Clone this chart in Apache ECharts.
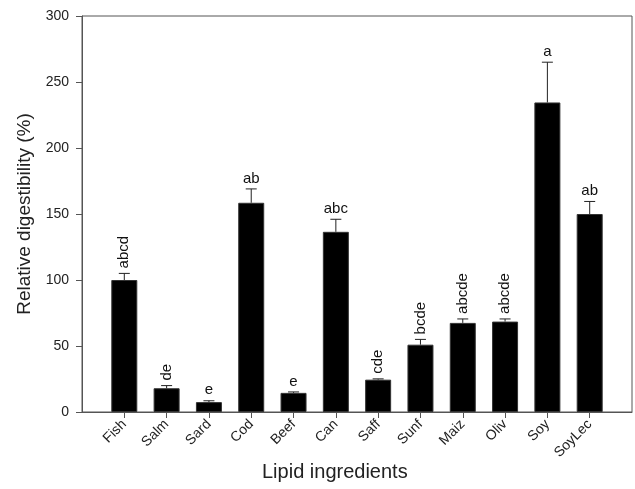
<!DOCTYPE html>
<html>
<head>
<meta charset="utf-8">
<script src="https://cdn.jsdelivr.net/npm/echarts@6/dist/echarts.min.js"></script>
<style>html,body{margin:0;padding:0;background:#fff}#c{width:635px;height:489px}</style>
</head>
<body>
<div id="c"></div>
<script>
const categories = ['Fish','Salm','Sard','Cod','Beef','Can','Saff','Sunf','Maiz','Oliv','Soy','SoyLec'];
const means = [100, 18, 7.5, 158.5, 14.5, 136.5, 24.5, 51, 67.5, 68.5, 234.5, 150];
const errors = [5, 2, 1, 10.5, 0.7, 9.5, 0.6, 4, 3, 2, 30.5, 9.5];
const letters = ['abcd','de','e','ab','e','abc','cde','bcde','abcde','abcde','a','ab'];
const letterVertical = [true, true, false, false, false, false, true, true, true, true, false, false];

const idx = categories.map((_, i) => i);
const barData = means.map((v, i) => [i, v]);
const errData = means.map((v, i) => [i, v, v + errors[i], letterVertical[i] ? 1 : 0]);

const FONT = '"Liberation Sans", Arial, sans-serif';
const chart = echarts.init(document.getElementById('c'), null, {renderer: 'canvas'});
chart.setOption({
  animation: false,
  backgroundColor: '#fff',
  grid: {left: 82, right: 3, top: 16, bottom: 77, show: true, borderColor: '#555', borderWidth: 1, backgroundColor: 'transparent'},
  title: {text: 'Lipid ingredients', left: 262, top: 462, padding: 0, textStyle: {fontFamily: FONT, fontSize: 20, fontWeight: 'normal', color: '#222'}},
  xAxis: {
    type: 'value', min: -1, max: 12, interval: 1,
    splitLine: {show: false},
    axisLine: {show: true, onZero: false, lineStyle: {color: '#555', width: 1}},
    axisTick: {show: true, length: 6, lineStyle: {color: '#555'}, customValues: idx},
    axisLabel: {
      customValues: idx, rotate: 45, margin: 10, fontFamily: FONT, fontSize: 14, color: '#222',
      formatter: v => categories[Math.round(v)] || ''
    }
  },
  yAxis: {
    type: 'value', min: 0, max: 300, interval: 50,
    name: 'Relative digestibility (%)', nameLocation: 'middle', nameGap: 44,
    nameTextStyle: {fontFamily: FONT, fontSize: 19, color: '#222'},
    splitLine: {show: false},
    axisLine: {show: true, onZero: false, lineStyle: {color: '#555', width: 1}},
    axisTick: {show: true, length: 6, lineStyle: {color: '#555'}},
    axisLabel: {margin: 13, fontFamily: FONT, fontSize: 14, color: '#222'}
  },
  series: [
    {
      type: 'bar', data: barData, barWidth: 26,
      itemStyle: {color: '#000', borderColor: '#333', borderWidth: 1}
    },
    {
      type: 'custom', data: errData, z: 5,
      renderItem: function (params, api) {
        const x = api.value(0);
        const base = api.coord([x, api.value(1)]);
        const top = api.coord([x, api.value(2)]);
        const cap = 5.5;
        const vertical = api.value(3) === 1;
        const text = letters[params.dataIndex];
        const children = [
          {type: 'line', shape: {x1: base[0], y1: base[1], x2: top[0], y2: top[1]}, style: {stroke: '#222', lineWidth: 1}},
          {type: 'line', shape: {x1: top[0] - cap, y1: top[1], x2: top[0] + cap, y2: top[1]}, style: {stroke: '#222', lineWidth: 1}}
        ];
        if (vertical) {
          children.push({type: 'text', x: top[0], y: top[1] - 5, rotation: Math.PI / 2,
            style: {text: text, align: 'left', verticalAlign: 'middle', font: '15px ' + FONT, fill: '#111'}});
        } else {
          children.push({type: 'text', x: top[0], y: top[1] - 3,
            style: {text: text, align: 'center', verticalAlign: 'bottom', font: '15px ' + FONT, fill: '#111'}});
        }
        return {type: 'group', children: children};
      }
    }
  ]
});
</script>
</body>
</html>
